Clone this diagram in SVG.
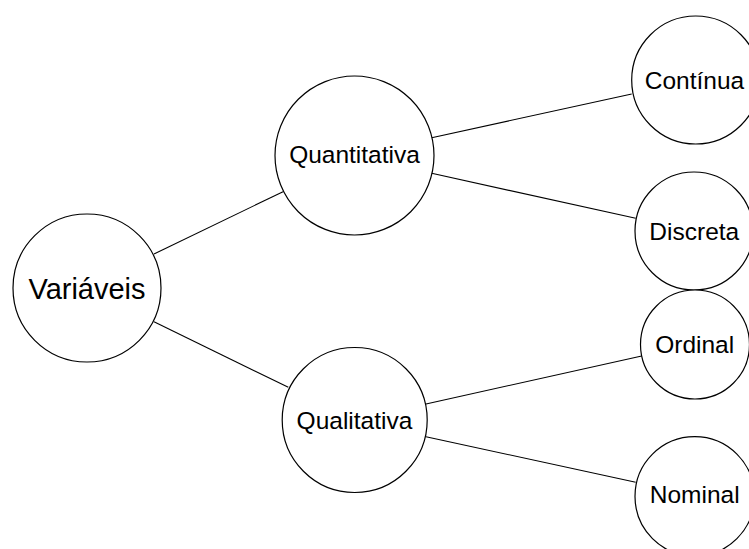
<svg xmlns="http://www.w3.org/2000/svg" width="749" height="549" viewBox="0 0 749 549">
<style>
.node circle{fill:#fff;stroke:#000;stroke-width:1.2}
.node text{font-family:"Liberation Sans",Arial,sans-serif;font-size:24.5px;text-anchor:middle;fill:#000}
.edges line{stroke:#000;stroke-width:1.1}
</style>
<rect width="749" height="549" fill="#fff"/>
<g id="edges" class="edges">
<line x1="154" y1="254" x2="283" y2="191.7"/>
<line x1="154" y1="321.7" x2="288.3" y2="387.3"/>
<line x1="431.7" y1="137.7" x2="631.7" y2="94"/>
<line x1="431.7" y1="173.3" x2="635.7" y2="218.3"/>
<line x1="426" y1="404" x2="641.7" y2="356"/>
<line x1="426" y1="436.7" x2="635.7" y2="482.3"/>
</g>
<g id="variaveis" class="node"><circle cx="87" cy="288" r="74"/><text x="87" y="299" style="font-size:29px">Variáveis</text></g>
<g id="quantitativa" class="node"><circle cx="354.5" cy="155.5" r="79.5"/><text x="354.5" y="163">Quantitativa</text></g>
<g id="qualitativa" class="node"><circle cx="354.7" cy="420" r="72.5"/><text x="354.5" y="429.3">Qualitativa</text></g>
<g id="continua" class="node"><circle cx="695.7" cy="80" r="64"/><text x="694.5" y="89.3">Contínua</text></g>
<g id="discreta" class="node"><circle cx="694" cy="231" r="59"/><text x="694.3" y="240">Discreta</text></g>
<g id="ordinal" class="node"><circle cx="695" cy="344.5" r="54.5"/><text x="694.7" y="353.3">Ordinal</text></g>
<g id="nominal" class="node"><circle cx="694.7" cy="496.4" r="59.7"/><text x="694.7" y="503.3">Nominal</text></g>
</svg>
